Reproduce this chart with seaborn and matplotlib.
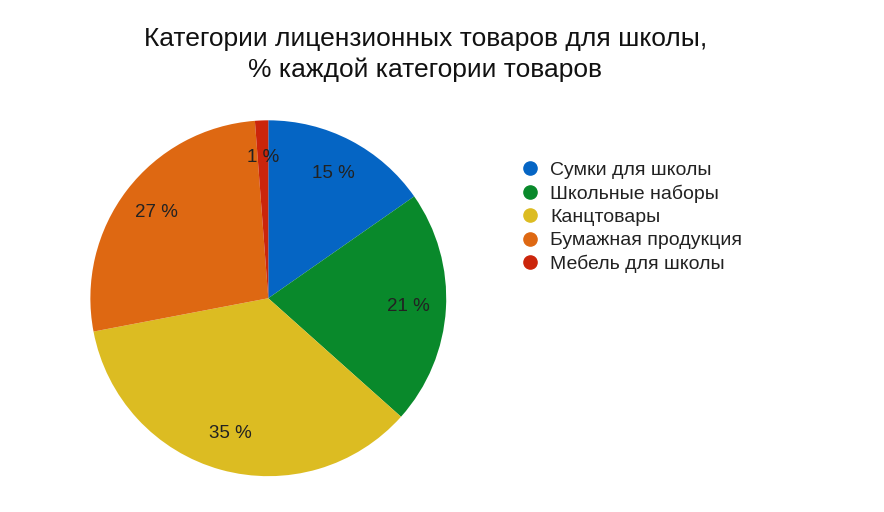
import matplotlib
matplotlib.use("Agg")
import matplotlib.pyplot as plt
from matplotlib.lines import Line2D
import numpy as np
import seaborn as sns

categories = ["Сумки для школы", "Школьные наборы", "Канцтовары",
              "Бумажная продукция", "Мебель для школы"]
values = [15.3, 21.3, 35.4, 26.8, 1.2]
labels_pct = ["15 %", "21 %", "35 %", "27 %", "1 %"]
colors = ["#0565c4", "#09892b", "#dcbc22", "#de6812", "#cb250b"]

sns.set_theme(style="white")
plt.rcParams['font.family'] = ['Liberation Sans', 'DejaVu Sans']

fig = plt.figure(figsize=(8.84, 5.12), dpi=100)
ax = fig.add_axes([0.102, 0.070, 0.403, 0.695])
wedges, _ = ax.pie(values, colors=colors, startangle=90, counterclock=False,
                   wedgeprops=dict(linewidth=0))
cum = np.cumsum([0] + values[:-1])
tot = sum(values)
for v, c, lab in zip(values, cum, labels_pct):
    ang = np.deg2rad(90 - (c + v / 2) / tot * 360)
    r = 0.79
    ax.text(r * np.cos(ang), r * np.sin(ang), lab, ha="center", va="center",
            fontsize=13.5, color="#222222")
ax.set_aspect("equal")
ax.set_xlim(-1, 1)
ax.set_ylim(-1, 1)
ax.axis("off")

fig.text(0.481, 0.924, "Категории лицензионных товаров для школы,", ha="center",
         va="center", fontsize=19, color="#111111")
fig.text(0.481, 0.863, "% каждой категории товаров", ha="center",
         va="center", fontsize=19, color="#111111")

handles = [Line2D([0], [0], marker="o", linestyle="", markersize=9.5,
                  markerfacecolor=c, markeredgecolor=c) for c in colors]
fig.legend(handles, categories, loc="upper left", bbox_to_anchor=(0.586, 0.685),
           frameon=False, fontsize=14, handletextpad=0.45, labelspacing=0.29,
           handlelength=1.2, borderaxespad=0, borderpad=0, labelcolor="#222222")

fig.savefig("out.png", dpi=100, facecolor="white")
